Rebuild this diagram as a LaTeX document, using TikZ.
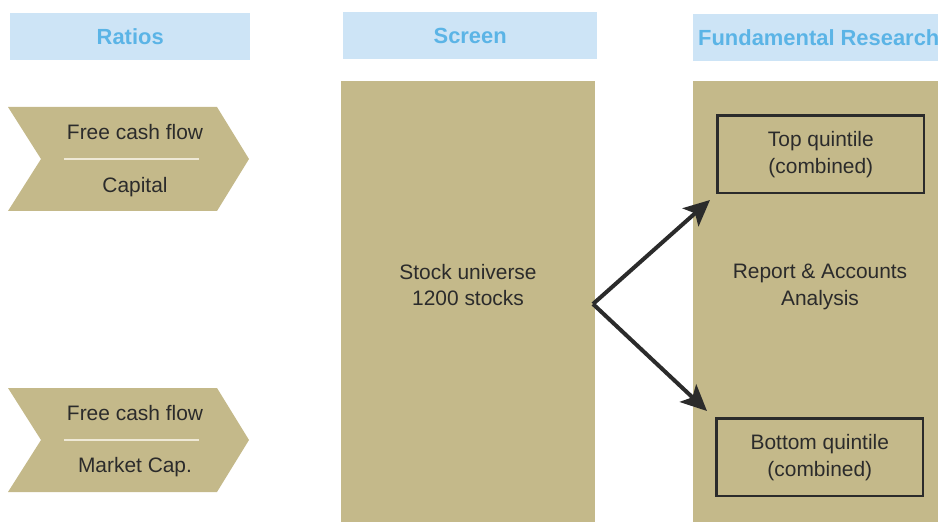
\documentclass[tikz,border=0pt]{standalone}
\usepackage{fontspec}
\setmainfont{Liberation Sans}
\usetikzlibrary{arrows.meta}
\definecolor{tan}{HTML}{C4B98A}
\definecolor{hdrbg}{HTML}{CDE4F6}
\definecolor{hdrtx}{HTML}{5BB4E6}
\definecolor{txt}{HTML}{2B2B2B}
\definecolor{divl}{HTML}{EFE9D6}
\begin{document}
\begin{tikzpicture}[x=1bp,y=-1bp,
 hdrbox/.style={fill=hdrbg, draw=none, anchor=north west, inner sep=0pt},
 hdrtext/.style={font=\fontsize{22}{26}\selectfont\bfseries, text=hdrtx, inner sep=0pt},
 colbox/.style={fill=tan, draw=none, anchor=north west, inner sep=0pt},
 lbl/.style={font=\fontsize{21}{27}\selectfont, text=txt, align=center, inner sep=0pt},
 qbox/.style={draw=txt, line width=2.6bp, fill=tan, anchor=north west, inner sep=0pt,
   minimum width=206.4bp, minimum height=77.4bp, align=center,
   font=\fontsize{21}{27}\selectfont, text=txt},
 chevron/.style={fill=tan, draw=none},
 divider/.style={draw=divl, line width=1.3bp},
 arr/.style={-{Stealth[length=26bp,width=24bp,inset=6bp]}, line width=4bp, draw=txt, line join=miter}
]
\useasboundingbox (0,0) rectangle (938,522);
\clip (0,0) rectangle (938,522);
% headers
\node[hdrbox, minimum width=240bp, minimum height=47bp] (h1) at (10,13) {};
\node[hdrtext] (h1t) at (h1.center) {Ratios};
\node[hdrbox, minimum width=254bp, minimum height=47bp] (h2) at (343,12) {};
\node[hdrtext] (h2t) at (h2.center) {Screen};
\node[hdrbox, minimum width=250bp, minimum height=47bp] (h3) at (693,14) {};
\node[hdrtext, anchor=west] (h3t) at (698,38) {Fundamental Research};
% chevrons
\path[chevron] (8,107) -- (217,107) -- (249,159) -- (217,211) -- (8,211) -- (41,159) -- cycle;
\node[lbl] (c1a) at (135,132) {Free cash flow};
\node[lbl] (c1b) at (135,187) {Capital};
\coordinate (d1l) at (64,159);
\coordinate (d1r) at (199,159);
\draw[divider] (d1l) -- (d1r);
\path[chevron] (8,388) -- (217,388) -- (249,440) -- (217,492) -- (8,492) -- (41,440) -- cycle;
\node[lbl] (c2a) at (135,413) {Free cash flow};
\node[lbl] (c2b) at (135,467) {Market Cap.};
\coordinate (d2l) at (64,440);
\coordinate (d2r) at (199,440);
\draw[divider] (d2l) -- (d2r);
% columns
\node[colbox, minimum width=254bp, minimum height=441bp] (screen) at (341,81) {};
\node[lbl] (screent) at (468,285) {Stock universe\\1200 stocks};
\node[colbox, minimum width=245bp, minimum height=441bp] (fund) at (693,81) {};
\node[lbl] (fundt) at (820,287) {Report \& Accounts\\Analysis};
\node[qbox] (top) at (716.3,114.3) {Top quintile\\(combined)};
\node[qbox] (bot) at (715.3,417.3) {Bottom quintile\\(combined)};
% arrows
\coordinate (v) at (593,304);
\coordinate (e1) at (710,200);
\coordinate (e2) at (707,411);
\draw[arr] (v) -- (e1);
\draw[arr] (v) -- (e2);
\end{tikzpicture}
\end{document}
